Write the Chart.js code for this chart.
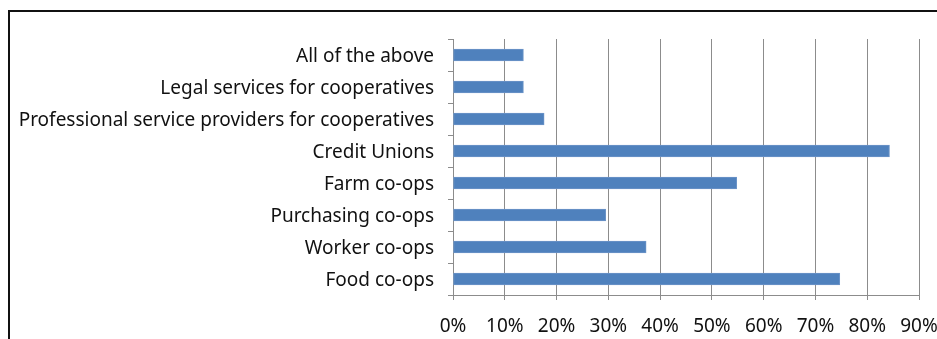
<!DOCTYPE html>
<html>
<head>
<meta charset="utf-8">
<script src="https://cdn.jsdelivr.net/npm/chart.js@4"></script>
<style>
    html, body { margin: 0; padding: 0; background: #fff; overflow: hidden; }
    #wrap { position: relative; width: 937px; height: 339px; }
    #frame {
        position: absolute; left: 8px; top: 10px; width: 960px; height: 400px;
        border-top: 2px solid #111; border-left: 2px solid #111;
    }
    #coopChart { position: absolute; left: 0; top: 0; }
</style>
</head>
<body>
<div id="wrap">
    <div id="frame"></div>
    <canvas id="coopChart" width="937" height="339"></canvas>
</div>
<script>
// categories, listed top to bottom
const categories = [
    'All of the above',
    'Legal services for cooperatives',
    'Professional service providers for cooperatives',
    'Credit Unions',
    'Farm co-ops',
    'Purchasing co-ops',
    'Worker co-ops',
    'Food co-ops'
];
// share of respondents (fraction)
const shares = [0.136, 0.136, 0.176, 0.843, 0.548, 0.295, 0.373, 0.747];
const xTickLabels = ['0%', '10%', '20%', '30%', '40%', '50%', '60%', '70%', '80%', '90%'];

const gridGray = '#8c8c8c';
const labelFont = { family: 'Noto Sans', size: 19 };

const ctx = document.getElementById('coopChart').getContext('2d');
new Chart(ctx, {
    type: 'bar',
    data: {
        labels: categories,
        datasets: [{
            data: shares,
            backgroundColor: '#4f81bd',
            borderColor: '#6d95c8',
            borderWidth: 1,
            borderSkipped: false,
            barThickness: 12
        }]
    },
    options: {
        indexAxis: 'y',
        responsive: false,
        animation: false,
        layout: { padding: { left: 0, right: 18, top: 39, bottom: 0 } },
        plugins: {
            legend: { display: false },
            tooltip: { enabled: false }
        },
        scales: {
            x: {
                min: 0,
                max: 0.9,
                afterFit: function(scale) {
                    scale.height = 44;
                    scale.paddingLeft = 0;
                    scale.paddingRight = 0;
                },
                afterBuildTicks: function(scale) {
                    scale.ticks = xTickLabels.map((t, i) => ({ value: i / 10 }));
                },
                ticks: {
                    color: '#111',
                    font: labelFont,
                    padding: 15,
                    maxRotation: 0,
                    callback: (v, i) => xTickLabels[i]
                },
                grid: {
                    color: gridGray,
                    lineWidth: 1,
                    drawTicks: true,
                    tickLength: 5
                },
                border: { color: gridGray, width: 1 }
            },
            y: {
                afterFit: function(scale) {
                    scale.width = 453;
                    scale.paddingTop = 0;
                    scale.paddingBottom = 0;
                },
                ticks: {
                    color: '#111',
                    font: labelFont,
                    padding: 14,
                    labelOffset: 2,
                    autoSkip: false
                },
                grid: {
                    drawOnChartArea: false,
                    drawTicks: true,
                    tickLength: 5,
                    color: gridGray,
                    offset: true
                },
                border: { color: gridGray, width: 1 }
            }
        }
    }
});
</script>
</body>
</html>
